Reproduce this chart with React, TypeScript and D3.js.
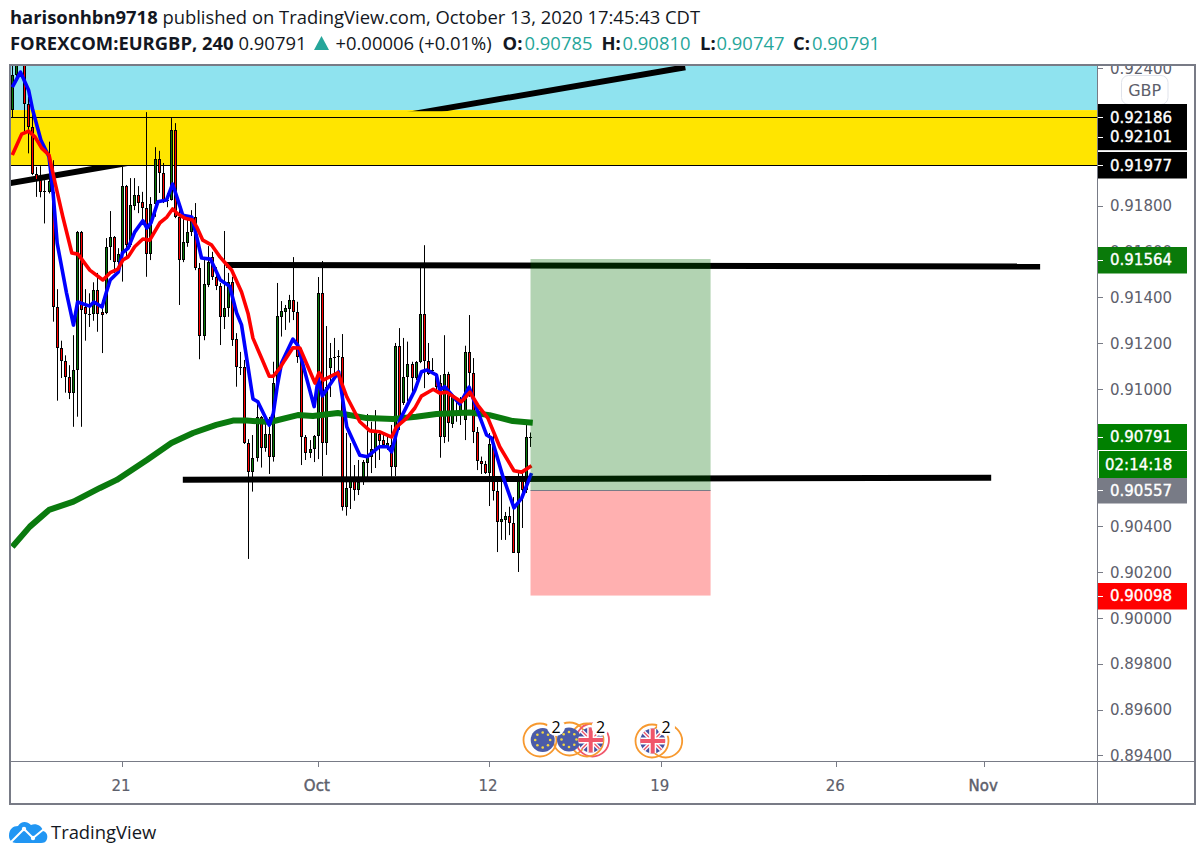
import React from "react";
import * as d3 from "d3";

// Prices are in units of 0.00001 (e.g. 90791 = 0.90791)
const highs = [92415,92436,92500,92450,92276,92247,91970,91973,91912,92080,91999,91436,91211,91147,91104,91235,91690,91690,91436,91418,91466,91507,91389,91659,91777,91668,91615,91970,91891,91921,91921,91886,91861,92209,91838,92056,92040,91987,91856,92183,92161,91799,91755,91759,91781,91812,91550,91576,91624,91599,91532,91463,91690,91507,91490,91244,91162,91127,90781,90799,90939,90882,90886,90878,91119,91463,91384,91367,91411,91576,91381,91179,90799,90777,90799,91489,91559,91275,91201,91223,91170,91240,90808,90764,90668,90690,90690,90891,90857,90908,90821,90799,90795,90843,91201,91266,91223,91207,91119,91122,91534,91628,91201,91135,91070,91061,91235,91075,90974,90965,90965,91189,91323,91135,90834,90705,90686,90808,90830,90616,90616,90463,90486,90528,90633,90633,90843,90810];
const opens = [92218,92371,92480,92436,92243,92145,91937,91912,91864,91861,91861,91358,91179,91124,91052,90984,91083,91687,91358,91329,91327,91432,91336,91333,91620,91663,91556,91594,91886,91628,91800,91847,91816,91790,91589,91808,92004,91944,91827,91825,92131,91752,91563,91639,91687,91752,91528,91232,91454,91576,91490,91450,91314,91353,91469,91218,91098,91096,90766,90638,90699,90878,90744,90803,90704,91026,91316,91338,91351,91389,91338,91141,90792,90722,90738,90796,91419,90764,91092,91139,91143,91141,90486,90568,90617,90559,90595,90677,90704,90734,90803,90777,90752,90755,90659,91188,90940,91052,91109,91048,91118,91327,91124,91083,91061,91026,90790,91066,90847,90952,90886,90864,91161,91071,90812,90687,90673,90634,90764,90553,90421,90428,90445,90415,90285,90611,90559,90785];
const closes = [92371,92428,92470,92243,92145,91937,91912,91859,91859,91909,91356,91179,91124,91052,90984,91083,91687,91345,91327,91325,91432,91327,91323,91620,91663,91556,91589,91886,91628,91803,91847,91813,91790,91589,91808,92004,91944,91825,91823,92131,91752,91563,91642,91687,91752,91528,91232,91458,91556,91490,91450,91314,91353,91469,91214,91096,91094,90766,90638,90699,90878,90744,90803,90704,91026,91319,91341,91354,91389,91338,91141,90792,90722,90738,90796,91419,90764,91010,91135,91135,91139,90486,90568,90617,90559,90595,90683,90704,90738,90814,90774,90755,90764,90659,91188,90878,91052,91109,91048,91118,91327,91124,91066,91079,91009,90790,91066,90852,90965,90948,90952,91161,91071,90812,90687,90673,90634,90760,90553,90421,90432,90445,90415,90285,90611,90559,90790,90791];
const lows = [92187,92358,92440,92116,92029,91934,91839,91837,91723,91854,91294,90949,91048,90984,90956,90835,90879,90835,91211,91271,91298,91250,91157,91327,91563,91507,91532,91469,91577,91620,91781,91768,91738,91490,91563,91752,91856,91812,91794,91823,91746,91367,91554,91621,91668,91519,91130,91213,91445,91476,91432,91192,91262,91315,91188,91010,91061,90760,90258,90552,90683,90657,90726,90629,90683,91009,91229,91258,91290,91301,91114,90668,90690,90699,90681,90694,90620,90712,90965,91052,91070,90469,90447,90476,90512,90537,90581,90595,90633,90655,90690,90748,90734,90617,90620,90821,90930,90947,90966,91039,91113,91004,91061,91070,90995,90700,90764,90770,90830,90857,90843,90777,90966,90764,90646,90629,90629,90489,90513,90288,90341,90341,90362,90284,90201,90393,90546,90747];

const blueBars = [0,2,4,5,7,9,10,11,13.3,15,16,19,20,22,23,24,26,27,28.4,30,32,33,34,35.7,37.8,39.3,40.6,41.8,44,45.2,46.4,48.6,51,53.3,55,56.2,59,60.2,63,64,65,66,68.8,70,74,75,76,80,82,85.2,87,90,92,93,95,98.7,100.3,101.7,104,104.8,106,109.7,112,114,116.3,117.5,120.3,123,124.9,127.3];
const blueValues = [92318,92384,92305,92218,92087,92014,91856,91637,91419,91279,91380,91362,91380,91358,91419,91476,91511,91594,91615,91685,91735,91703,91725,91818,91825,91895,91825,91759,91751,91665,91572,91567,91476,91449,91332,91280,90957,90944,90842,90894,91017,91113,91218,91191,90923,91048,90970,91075,90835,90711,90704,90748,90748,90726,90864,90995,91075,91083,91061,90995,91010,90934,91008,90908,90799,90786,90617,90481,90524,90633];

const redBars = [0,2.3,4,5.6,7.2,9,10.5,12.4,14.6,16.1,19,22.2,24,25.9,27.1,28.4,30,32,33.7,36.2,37.9,39.3,40.6,42.3,44.2,45.2,46.7,48.9,50.9,52.5,53.8,56.2,57.8,59,61.1,63,64,65.6,66.8,68.8,70.5,74.2,75.2,76.2,79.8,82,85.2,87.7,90.1,93,94.2,96.7,98.7,100.3,103.2,104.8,106.5,110.1,112.2,114.1,116.6,119.5,123,124.9,127.3];
const redValues = [92022,92113,92126,92100,92052,92022,91899,91751,91594,91589,91519,91476,91508,91524,91563,91577,91621,91655,91650,91726,91751,91786,91764,91746,91738,91708,91650,91628,91577,91545,91519,91424,91330,91222,91135,91056,91056,91091,91126,91180,91179,91026,91071,91039,91071,90966,90857,90817,90813,90790,90835,90873,90917,90969,90999,90982,90986,90944,90986,90930,90873,90748,90643,90637,90665];

const maBars = [0,4.3,9,15,21.5,25.6,33,39,44.3,50,54.1,57.5,63.2,70,73.7,79.8,86.9,93.3,99,104,112.2,117,122.7,127.6];
const maValues = [90311,90399,90472,90508,90568,90603,90690,90764,90808,90843,90862,90862,90856,90886,90882,90895,90873,90869,90879,90891,90897,90886,90860,90853];

const priceTicks = [92400,91800,91600,91400,91200,91000,90400,90200,90000,89800,89600,89400];
const timeTickBars = [26.9,74.9,116.9,159,202,238.3];
const timeTickLabels = ["21","Oct","12","19","26","Nov"];

const cyanBand = [92218, 92480];
const yellowBand = [91977, 92218];
const hLevels = [92186, 91977];
const trendLine = { bars: [-0.6, 165], values: [91899, 92405] };
const resistance = { bars: [52.4, 252], values: [91542, 91535] };
const support = { bars: [41.8, 240], values: [90604, 90612] };
const box = { bars: [127, 171.2], entry: 90557, target: 91564, stop: 90098 };

const priceFlags = [
  { v: 92186, text: "0.92186", fill: "#000000" },
  { v: 92101, text: "0.92101", fill: "#000000" },
  { v: 91977, text: "0.91977", fill: "#000000" },
  { v: 91564, text: "0.91564", fill: "#0a7a0a" },
  { v: 90791, text: "0.90791", fill: "#008000" },
  { v: 90557, text: "0.90557", fill: "#787b86" },
  { v: 90098, text: "0.90098", fill: "#ff0000" },
];

const FRAME = "#787b86";
const LABEL = "#5d606b";
const TEAL = "#26a69a";
const DARK = "#131722";
const FONT_AXIS = "'DejaVu Sans', sans-serif";
const FONT_HEAD = "'Open Sans', sans-serif";

const x = d3.scaleLinear().domain([0, 127]).range([12.3, 530.3]);
const y = d3.scaleLinear().domain([90000, 92400]).range([618, 68.4]);
const seriesLine = (bars: number[], values: number[]) =>
  d3.line<number>().x((_, i) => x(bars[i])).y((v) => y(v)).curve(d3.curveLinear)(values) as string;

function Candle({ i }: { i: number }) {
  const c = Math.floor(x(i));
  const up = closes[i] >= opens[i];
  const top = Math.round(y(Math.max(opens[i], closes[i])));
  const bot = Math.round(y(Math.min(opens[i], closes[i])));
  const h = Math.max(1, bot - top);
  return (
    <g>
      <rect x={c} y={y(highs[i])} width={1} height={y(lows[i]) - y(highs[i])} fill="#000" />
      <rect x={c - 1} y={top} width={3} height={h} fill="#000" />
      {h > 2 && <rect x={c} y={top + 1} width={1} height={h - 2} fill={up ? "#087a08" : "#ff0000"} />}
    </g>
  );
}

const Ring = ({ cx, cy, color }: { cx: number; cy: number; color: string }) => (
  <circle cx={cx} cy={cy} r={16.5} fill="none" stroke={color} strokeWidth={1.8} />
);

function EuFlag({ cx, cy }: { cx: number; cy: number }) {
  const stars = d3.range(8).map((k) => (k * Math.PI) / 4);
  return (
    <g>
      <circle cx={cx} cy={cy} r={12} fill="#4b5ba8" />
      {stars.map((a, k) => (
        <circle key={k} cx={cx + 7.5 * Math.cos(a)} cy={cy + 7.5 * Math.sin(a)} r={1.3} fill="#f4d742" />
      ))}
    </g>
  );
}

function UkFlag({ cx, cy, id }: { cx: number; cy: number; id: string }) {
  return (
    <g>
      <clipPath id={id}>
        <circle cx={cx} cy={cy} r={12.5} />
      </clipPath>
      <g clipPath={`url(#${id})`}>
        <rect x={cx - 13} y={cy - 13} width={26} height={26} fill="#46519f" />
        <line x1={cx - 13} y1={cy - 13} x2={cx + 13} y2={cy + 13} stroke="#fff" strokeWidth={4} />
        <line x1={cx + 13} y1={cy - 13} x2={cx - 13} y2={cy + 13} stroke="#fff" strokeWidth={4} />
        <line x1={cx - 13} y1={cy - 13} x2={cx + 13} y2={cy + 13} stroke="#f0566a" strokeWidth={1.4} />
        <line x1={cx + 13} y1={cy - 13} x2={cx - 13} y2={cy + 13} stroke="#f0566a" strokeWidth={1.4} />
        <rect x={cx - 13} y={cy - 3.5} width={26} height={7} fill="#fff" />
        <rect x={cx - 3.5} y={cy - 13} width={7} height={26} fill="#fff" />
        <rect x={cx - 13} y={cy - 2} width={26} height={4} fill="#f0566a" />
        <rect x={cx - 2} y={cy - 13} width={4} height={26} fill="#f0566a" />
      </g>
    </g>
  );
}

function Badge({ cx, cy }: { cx: number; cy: number }) {
  return (
    <g>
      <circle cx={cx} cy={cy} r={9} fill="#fff" />
      <text x={cx} y={cy + 6} textAnchor="middle" fontSize={16} fontFamily={FONT_HEAD} fill="#000">2</text>
    </g>
  );
}

export default function App() {
  const left = 10;
  const right = 1097;
  const chartTop = 66;
  const chartBottom = 761;
  const boxL = Math.floor(x(box.bars[0])) + 0.5;
  const boxR = x(box.bars[1]);
  const head: [number, string, string, number][] = [
    [238.5, "0.90791", DARK, 400],
    [335.5, "+0.00006 (+0.01%)", DARK, 400],
    [502.5, "O:", DARK, 700],
    [524.5, "0.90785", TEAL, 400],
    [601.5, "H:", DARK, 700],
    [622.5, "0.90810", TEAL, 400],
    [700, "L:", DARK, 700],
    [716.5, "0.90747", TEAL, 400],
    [793, "C:", DARK, 700],
    [812, "0.90791", TEAL, 400],
  ];
  return (
    <svg width={1204} height={860} style={{ position: "absolute", left: 0, top: 0 }}>
      <rect width={1204} height={860} fill="#fff" />
      <defs>
        <clipPath id="plot">
          <rect x={left + 1} y={chartTop} width={right - left - 1} height={chartBottom - chartTop} />
        </clipPath>
        <clipPath id="axis">
          <rect x={right} y={chartTop} width={96} height={chartBottom - chartTop} />
        </clipPath>
      </defs>

      <text x={10} y={24} fontSize={18.4} fontFamily={FONT_HEAD} fill={DARK}>
        <tspan fontWeight={700}>harisonhbn9718</tspan> published on TradingView.com, October 13, 2020 17:45:43 CDT
      </text>
      <text x={10} y={50} fontSize={18.4} fontFamily={FONT_HEAD} fontWeight={700} fill={DARK}>FOREXCOM:EURGBP, 240</text>
      {head.map(([tx, s, fill, w], k) => (
        <text key={k} x={tx} y={50} fontSize={18.4} fontFamily={FONT_HEAD} fontWeight={w} fill={fill}>{s}</text>
      ))}
      <path d="M314 50 L329 50 L321.5 36 Z" fill={TEAL} />

      <g clipPath="url(#plot)">
        <rect x={left} y={y(cyanBand[1])} width={right - left} height={y(cyanBand[0]) - y(cyanBand[1])} fill="#8fe3ef" />
        <rect x={left} y={y(yellowBand[1])} width={right - left} height={y(yellowBand[0]) - y(yellowBand[1])} fill="#ffe500" />
        <line x1={x(trendLine.bars[0])} y1={y(trendLine.values[0])} x2={x(trendLine.bars[1])} y2={y(trendLine.values[1])} stroke="#000" strokeWidth={6} />
        <rect x={left} y={y(92213)} width={right - left} height={y(yellowBand[0]) - y(92213)} fill="#ffe500" />
        {hLevels.map((v) => (
          <rect key={v} x={left} y={Math.round(y(v))} width={right - left} height={1} fill="#000" />
        ))}
        {highs.map((_, i) => <Candle key={i} i={i} />)}
        {[resistance, support].map((l, k) => (
          <line key={k} x1={x(l.bars[0])} y1={y(l.values[0])} x2={x(l.bars[1])} y2={y(l.values[1])} stroke="#000" strokeWidth={6} />
        ))}
        <path d={seriesLine(maBars, maValues)} fill="none" stroke="#0a7a0e" strokeWidth={6} strokeLinejoin="round" />
        <path d={seriesLine(blueBars, blueValues)} fill="none" stroke="#0000ff" strokeWidth={3.6} strokeLinejoin="round" />
        <path d={seriesLine(redBars, redValues)} fill="none" stroke="#ff0000" strokeWidth={3.6} strokeLinejoin="round" />
        <rect x={boxL} y={Math.floor(y(box.target))} width={boxR - boxL} height={y(box.entry) - Math.floor(y(box.target))} fill="rgb(0,110,0)" fillOpacity={0.3} />
        <rect x={boxL} y={y(box.entry)} width={boxR - boxL} height={y(box.stop) - y(box.entry)} fill="rgb(255,0,0)" fillOpacity={0.31} />
        <rect x={boxL} y={Math.round(y(box.entry))} width={boxR - boxL} height={1} fill="#787b86" />
      </g>

      <Ring cx={540} cy={740} color="#f7992f" />
      <Ring cx={569.5} cy={739} color="#f7992f" />
      <Ring cx={592.5} cy={740} color="#f0566a" />
      <Ring cx={587} cy={740} color="#f7992f" />
      <EuFlag cx={542.7} cy={740} />
      <EuFlag cx={569} cy={739.5} />
      <UkFlag cx={590.7} cy={740} id="uk1" />
      <Badge cx={556} cy={727} />
      <Badge cx={600.5} cy={727} />
      <Ring cx={652} cy={741} color="#f7992f" />
      <Ring cx={665.7} cy={741} color="#f7992f" />
      <UkFlag cx={652.7} cy={741} id="uk2" />
      <Badge cx={666} cy={727} />

      <g clipPath="url(#axis)">
        {priceTicks.map((t) => (
          <g key={t}>
            <rect x={right} y={Math.round(y(t))} width={6} height={1} fill={FRAME} />
            <text x={1110} y={y(t) + 5.5} fontSize={15} fontFamily={FONT_AXIS} fill={LABEL}>{(t / 1e5).toFixed(5)}</text>
          </g>
        ))}
      </g>

      <rect x={1121.5} y={75.5} width={46.5} height={29} rx={7} fill="#fff" stroke="#e0e3eb" />
      <text x={1144.7} y={95.5} textAnchor="middle" fontSize={16} fontFamily={FONT_AXIS} fill={LABEL}>GBP</text>

      {priceFlags.map((f) => {
        const cy = Math.round(y(f.v));
        return <rect key={f.text} x={1097} y={cy - 13} width={90} height={26.5} fill={f.fill} />;
      })}
      <rect x={1097} y={150.3} width={90} height={1.7} fill="#fff" />
      <rect x={1098} y={450} width={89} height={28} fill="#008000" />
      <rect x={1098} y={450} width={89} height={1} fill="#fff" />
      <rect x={1098} y={450} width={1} height={28} fill="#fff" />
      {priceFlags.map((f) => {
        const cy = y(f.v);
        return (
          <g key={f.text}>
            <rect x={1097} y={Math.round(cy)} width={6} height={1} fill="#fff" />
            <text x={1110} y={cy + 5.5} fontSize={15} fontFamily={FONT_AXIS} fill="#fff" stroke="#fff" strokeWidth={0.35}>{f.text}</text>
          </g>
        );
      })}
      <text x={1105} y={470} fontSize={15} fontFamily={FONT_AXIS} fill="#fff" stroke="#fff" strokeWidth={0.35}>02:14:18</text>

      {timeTickBars.map((b, k) => (
        <g key={k}>
          <rect x={Math.round(x(b))} y={chartBottom} width={1} height={6} fill={FRAME} />
          <text x={x(b) - 1} y={791} textAnchor="middle" fontSize={15} fontFamily={FONT_AXIS} fill={LABEL} stroke={LABEL} strokeWidth={timeTickLabels[k] === "Oct" || timeTickLabels[k] === "Nov" ? 0.45 : 0.15}>{timeTickLabels[k]}</text>
        </g>
      ))}

      <rect x={9} y={64} width={1187} height={2} fill={FRAME} />
      <rect x={9} y={803} width={1187} height={2} fill={FRAME} />
      <rect x={9} y={64} width={2} height={741} fill={FRAME} />
      <rect x={1194} y={64} width={2} height={741} fill={FRAME} />
      <rect x={1097} y={64} width={1} height={741} fill={FRAME} />
      <rect x={10} y={761} width={1186} height={1} fill={FRAME} />

      <path d="M9 836 C9 829 13 826 18 826 C21 821 27 821 31 825 C36 823 42 826 43 831 C47 832 48 836 47 839 C46 842 44 843 41 843 L16 843 C12 843 9 840 9 836 Z" fill="#2196f3" />
      <path d="M11 842 L24 829 L33 838 L44 829" fill="none" stroke="#fff" strokeWidth={2} />
      <circle cx={24} cy={829} r={2.2} fill="#fff" />
      <circle cx={33} cy={838} r={2.2} fill="#fff" />
      <text x={51} y={839} fontSize={18.4} fontFamily={FONT_HEAD} fill={DARK}>TradingView</text>
    </svg>
  );
}
